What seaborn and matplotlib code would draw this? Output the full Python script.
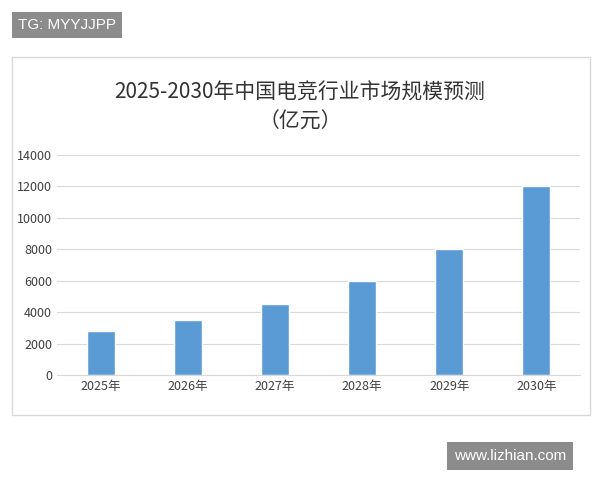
import matplotlib
matplotlib.use("Agg")
import matplotlib.pyplot as plt
import seaborn as sns
import pandas as pd
from matplotlib.patches import Rectangle

years = ["2025年", "2026年", "2027年", "2028年", "2029年", "2030年"]
values = [2800, 3500, 4500, 6000, 8000, 12000]
yticks = [0, 2000, 4000, 6000, 8000, 10000, 12000, 14000]

sns.set_style("white")
plt.rcParams['font.family'] = ['Noto Sans CJK SC', 'DejaVu Sans']

fig = plt.figure(figsize=(6, 4.8), dpi=100)
W, H = 600, 480
fig.patches.append(Rectangle((12/W, 1-415/H), 578/W, 358/H, transform=fig.transFigure,
                             fill=False, edgecolor="#d9d9d9", lw=1))
ax = fig.add_axes([57/W, 1-375/H, 523/W, 220/H])
df = pd.DataFrame({"year": years, "value": values})
sns.barplot(data=df, x="year", y="value", color="#5b9bd5", saturation=1, width=0.32, ax=ax)
ax.set_ylim(0, 14000)
ax.set_yticks(yticks)
ax.set_yticklabels([str(v) for v in yticks], fontsize=9, color="#404040")
ax.tick_params(axis="x", labelsize=9, colors="#404040", length=0)
ax.tick_params(axis="y", length=0)
ax.set_xlabel(""); ax.set_ylabel("")
ax.grid(axis="y", color="#d9d9d9", lw=0.8)
ax.set_axisbelow(True)
for s in ["top", "right", "left"]:
    ax.spines[s].set_visible(False)
ax.spines["bottom"].set_color("#d9d9d9")

fig.text(300/W, 1-93/H, "2025-2030年中国电竞行业市场规模预测", ha="center", va="center",
         fontsize=15, color="#333333", fontweight="medium")
fig.text(300/W, 1-122/H, "（亿元）", ha="center", va="center", fontsize=15, color="#333333",
         fontweight="medium")

fig.text(18/W, 1-25/H, "TG: MYYJJPP", ha="left", va="center", fontsize=11, color="white",
         family="Liberation Sans",
         bbox=dict(boxstyle="square,pad=0.4", fc="#8c8c8c", ec="none"))
fig.text(510/W, 1-456/H, "www.lizhian.com", ha="center", va="center", fontsize=11, color="white",
         family="Liberation Sans",
         bbox=dict(boxstyle="square,pad=0.45", fc="#8c8c8c", ec="none"))

fig.savefig("out.png", dpi=100)
